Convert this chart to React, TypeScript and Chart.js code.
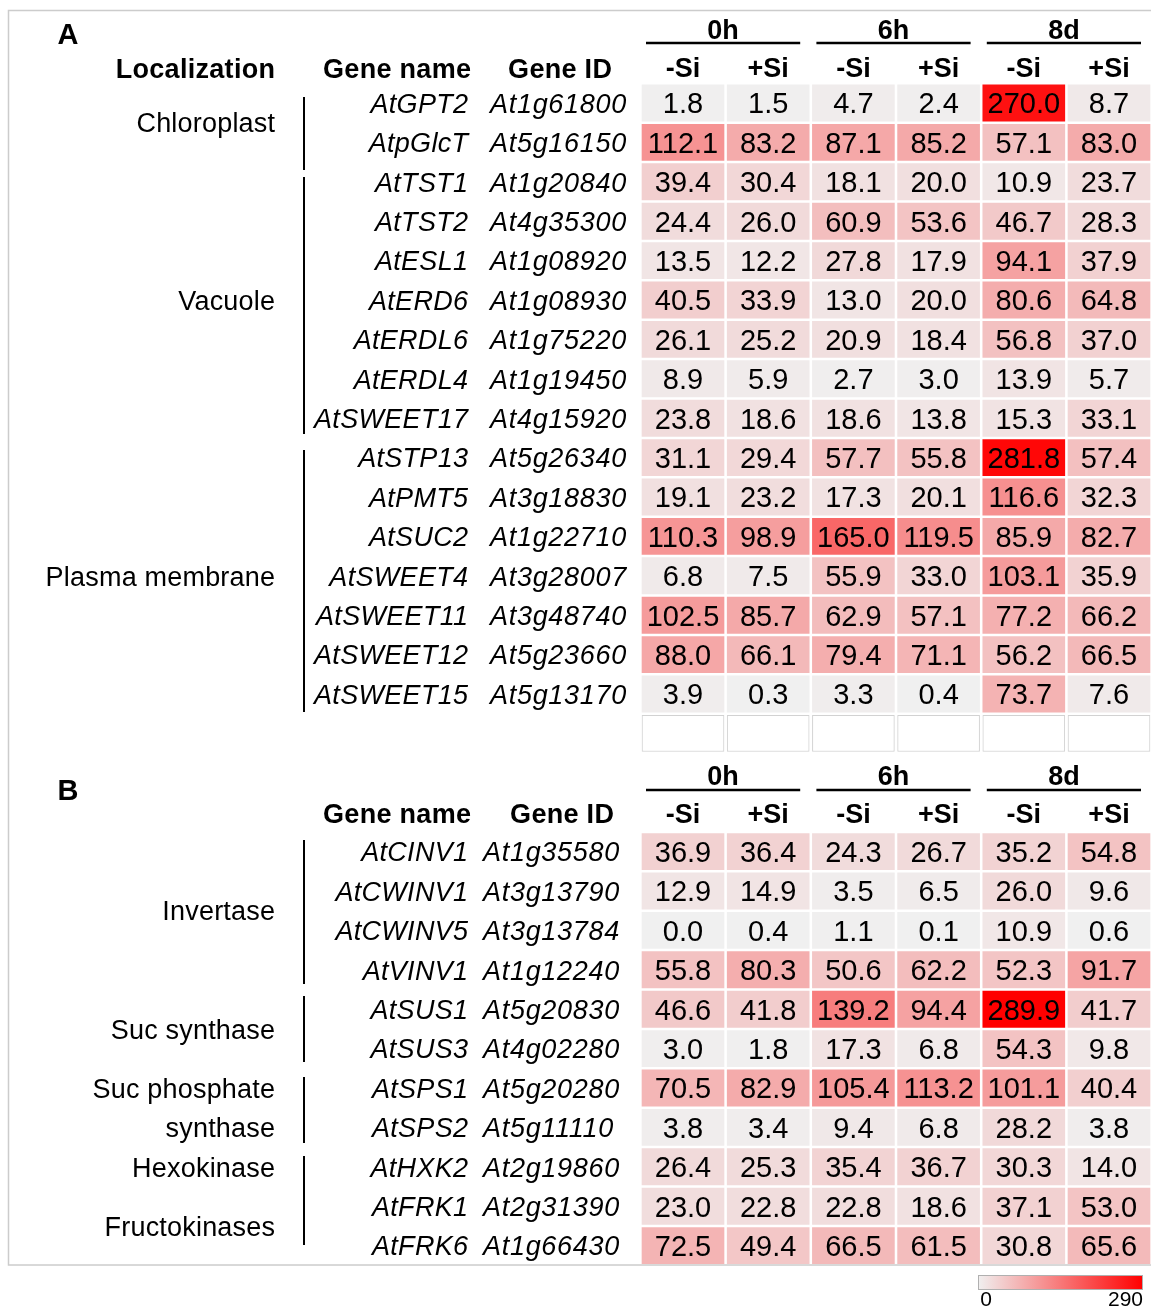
import { useEffect, useRef } from "react";
import { Chart, registerables } from "chart.js";

Chart.register(...registerables);

// ---------------- data ----------------
const timePoints = ["0h", "6h", "8d"];
const treatments = ["-Si", "+Si", "-Si", "+Si", "-Si", "+Si"];

const geneNamesA = [
  "AtGPT2", "AtpGlcT", "AtTST1", "AtTST2", "AtESL1", "AtERD6", "AtERDL6", "AtERDL4",
  "AtSWEET17", "AtSTP13", "AtPMT5", "AtSUC2", "AtSWEET4", "AtSWEET11", "AtSWEET12", "AtSWEET15",
];
const geneIdsA = [
  "At1g61800", "At5g16150", "At1g20840", "At4g35300", "At1g08920", "At1g08930", "At1g75220", "At1g19450",
  "At4g15920", "At5g26340", "At3g18830", "At1g22710", "At3g28007", "At3g48740", "At5g23660", "At5g13170",
];
const valuesA = [
  [1.8, 1.5, 4.7, 2.4, 270.0, 8.7],
  [112.1, 83.2, 87.1, 85.2, 57.1, 83.0],
  [39.4, 30.4, 18.1, 20.0, 10.9, 23.7],
  [24.4, 26.0, 60.9, 53.6, 46.7, 28.3],
  [13.5, 12.2, 27.8, 17.9, 94.1, 37.9],
  [40.5, 33.9, 13.0, 20.0, 80.6, 64.8],
  [26.1, 25.2, 20.9, 18.4, 56.8, 37.0],
  [8.9, 5.9, 2.7, 3.0, 13.9, 5.7],
  [23.8, 18.6, 18.6, 13.8, 15.3, 33.1],
  [31.1, 29.4, 57.7, 55.8, 281.8, 57.4],
  [19.1, 23.2, 17.3, 20.1, 116.6, 32.3],
  [110.3, 98.9, 165.0, 119.5, 85.9, 82.7],
  [6.8, 7.5, 55.9, 33.0, 103.1, 35.9],
  [102.5, 85.7, 62.9, 57.1, 77.2, 66.2],
  [88.0, 66.1, 79.4, 71.1, 56.2, 66.5],
  [3.9, 0.3, 3.3, 0.4, 73.7, 7.6],
];
const localizationLabels = ["Chloroplast", "Vacuole", "Plasma membrane"];
const localizationSpans = [[0, 1], [2, 8], [9, 15]];

const geneNamesB = [
  "AtCINV1", "AtCWINV1", "AtCWINV5", "AtVINV1", "AtSUS1", "AtSUS3",
  "AtSPS1", "AtSPS2", "AtHXK2", "AtFRK1", "AtFRK6",
];
const geneIdsB = [
  "At1g35580", "At3g13790", "At3g13784", "At1g12240", "At5g20830", "At4g02280",
  "At5g20280", "At5g11110", "At2g19860", "At2g31390", "At1g66430",
];
const valuesB = [
  [36.9, 36.4, 24.3, 26.7, 35.2, 54.8],
  [12.9, 14.9, 3.5, 6.5, 26.0, 9.6],
  [0.0, 0.4, 1.1, 0.1, 10.9, 0.6],
  [55.8, 80.3, 50.6, 62.2, 52.3, 91.7],
  [46.6, 41.8, 139.2, 94.4, 289.9, 41.7],
  [3.0, 1.8, 17.3, 6.8, 54.3, 9.8],
  [70.5, 82.9, 105.4, 113.2, 101.1, 40.4],
  [3.8, 3.4, 9.4, 6.8, 28.2, 3.8],
  [26.4, 25.3, 35.4, 36.7, 30.3, 14.0],
  [23.0, 22.8, 22.8, 18.6, 37.1, 53.0],
  [72.5, 49.4, 66.5, 61.5, 30.8, 65.6],
];
const functionLabels = ["Invertase", "Suc synthase", "Suc phosphate", "synthase", "Hexokinase", "Fructokinases"];
const functionLabelRows = [1.5, 4.5, 6, 7, 8, 9.5];

const scaleMin = 0;
const scaleMax = 290;

// ---------------- layout ----------------
const W = 1151;
const H = 1306;
const COL0 = 683; // px centre of first column
const COLPITCH = 85.2;
const ROW0 = 103; // px centre of first row
const ROWPITCH = 39.4;
const B_OFFSET = 19; // rows between panel A and panel B start
const EMPTY_ROW = 16;
const FONT = '"Liberation Sans", Arial, Helvetica, sans-serif';

function colorFor(v: number) {
  const t = Math.max(0, Math.min(1, (v - scaleMin) / (scaleMax - scaleMin)));
  const r = Math.round(240 + (255 - 240) * t);
  const g = Math.round(240 * (1 - t));
  const b = Math.round(240 * (1 - t));
  return `rgb(${r},${g},${b})`;
}

type Cell = { x: number; y: [number, number]; v: number };

function buildCells(): Cell[] {
  const cells: Cell[] = [];
  valuesA.forEach((row, i) =>
    row.forEach((v, c) => cells.push({ x: c, y: [i - 0.46, i + 0.46], v }))
  );
  valuesB.forEach((row, j) =>
    row.forEach((v, c) => cells.push({ x: c, y: [B_OFFSET + j - 0.46, B_OFFSET + j + 0.46], v }))
  );
  return cells;
}

function txt(
  ctx: CanvasRenderingContext2D,
  s: string,
  x: number,
  y: number,
  size: number,
  align: CanvasTextAlign = "center",
  style = "",
  spacing = 0
) {
  ctx.font = `${style} ${size}px ${FONT}`.trim();
  (ctx as any).letterSpacing = `${spacing}px`;
  ctx.textAlign = align;
  ctx.textBaseline = "alphabetic";
  ctx.fillStyle = "#000";
  // compensate trailing letter spacing for right/center alignment
  let dx = 0;
  if (spacing && align === "right") dx = spacing;
  if (spacing && align === "center") dx = spacing / 2;
  ctx.fillText(s, x + dx, y + size * 0.36);
  (ctx as any).letterSpacing = "0px";
}

const overlayPlugin = {
  id: "overlay",
  afterDatasetsDraw(chart: any) {
    const ctx: CanvasRenderingContext2D = chart.ctx;
    const xs = chart.scales.x;
    const ys = chart.scales.y;
    ctx.save();

    // frame
    ctx.strokeStyle = "#cccccc";
    ctx.lineWidth = 1.5;
    ctx.strokeRect(8.5, 10.5, 1170, 1254.5);

    // cell values
    const cells = chart.data.datasets[0].data as Cell[];
    cells.forEach((cell) => {
      const cx = xs.getPixelForValue(cell.x);
      const cy = ys.getPixelForValue((cell.y[0] + cell.y[1]) / 2);
      txt(ctx, cell.v.toFixed(1), cx, cy, 29, "center");
    });

    const drawHeader = (yTime: number, yLine: number, ySub: number) => {
      for (let k = 0; k < 3; k++) {
        const x1 = xs.getPixelForValue(2 * k) - 37;
        const x2 = xs.getPixelForValue(2 * k + 1) + 32;
        ctx.strokeStyle = "#000";
        ctx.lineWidth = 2.5;
        ctx.beginPath();
        ctx.moveTo(x1, yLine);
        ctx.lineTo(x2, yLine);
        ctx.stroke();
        txt(ctx, timePoints[k], (x1 + x2) / 2, yTime, 27, "center", "bold");
      }
      treatments.forEach((t, c) => txt(ctx, t, xs.getPixelForValue(c), ySub, 27, "center", "bold"));
    };

    // panel A headers
    txt(ctx, "A", 68, 34, 29, "center", "bold");
    txt(ctx, "Localization", 275, 68, 27, "right", "bold", 0.3);
    txt(ctx, "Gene name", 397, 68, 27, "center", "bold", 0.3);
    txt(ctx, "Gene ID", 560, 68, 27, "center", "bold", 0.3);
    drawHeader(29, 43, 67);

    // panel A rows
    geneNamesA.forEach((g, i) => {
      const y = ys.getPixelForValue(i);
      txt(ctx, g, 468, y, 27, "right", "italic", 0.3);
      txt(ctx, geneIdsA[i], 490, y, 27, "left", "italic", 0.7);
    });
    localizationLabels.forEach((l, k) => {
      const [a, b] = localizationSpans[k];
      txt(ctx, l, 275, ys.getPixelForValue((a + b) / 2), 27, "right", "", 0.2);
    });
    const barsA = [[97, 170], [177, 434], [450, 712]];
    const barsB = [[840, 984], [996, 1062], [1077, 1143], [1156, 1245]];
    ctx.strokeStyle = "#000";
    ctx.lineWidth = 2;
    [...barsA, ...barsB].forEach(([y1, y2]) => {
      ctx.beginPath();
      ctx.moveTo(304, y1);
      ctx.lineTo(304, y2);
      ctx.stroke();
    });

    // panel B headers
    txt(ctx, "B", 68, 790, 29, "center", "bold");
    txt(ctx, "Gene name", 397, 813, 27, "center", "bold", 0.3);
    txt(ctx, "Gene ID", 562, 813, 27, "center", "bold", 0.3);
    drawHeader(775, 790, 813);

    geneNamesB.forEach((g, j) => {
      const y = ys.getPixelForValue(B_OFFSET + j);
      txt(ctx, g, 468, y, 27, "right", "italic", 0.3);
      txt(ctx, geneIdsB[j], 483, y, 27, "left", "italic", 0.7);
    });
    functionLabels.forEach((l, k) => {
      txt(ctx, l, 275, ys.getPixelForValue(B_OFFSET + functionLabelRows[k]), 27, "right", "", 0.2);
    });

    // colour bar
    const cbx1 = 978, cbx2 = 1143, cby1 = 1275, cby2 = 1290;
    const grad = ctx.createLinearGradient(cbx1, 0, cbx2, 0);
    grad.addColorStop(0, colorFor(scaleMin));
    grad.addColorStop(0.5, colorFor((scaleMin + scaleMax) / 2));
    grad.addColorStop(1, colorFor(scaleMax));
    ctx.fillStyle = grad;
    ctx.fillRect(cbx1, cby1, cbx2 - cbx1, cby2 - cby1);
    ctx.strokeStyle = "#b0b0b0";
    ctx.lineWidth = 1;
    ctx.strokeRect(cbx1 + 0.5, cby1 + 0.5, cbx2 - cbx1 - 1, cby2 - cby1 - 1);
    txt(ctx, String(scaleMin), 986, 1298, 21, "center");
    txt(ctx, String(scaleMax), 1143, 1298, 21, "right");

    ctx.restore();
  },
};

export default function App() {
  const ref = useRef<HTMLCanvasElement | null>(null);
  useEffect(() => {
    if (!ref.current) return;
    const cells = buildCells();
    const emptyCells = treatments.map((_, c) => ({ x: c, y: [EMPTY_ROW - 0.46, EMPTY_ROW + 0.46] }));
    const xMin = -COL0 / COLPITCH;
    const xMax = xMin + W / COLPITCH;
    const yMin = -ROW0 / ROWPITCH;
    const yMax = yMin + H / ROWPITCH;
    const chart = new Chart(ref.current, {
      type: "bar",
      data: {
        datasets: [
          {
            data: cells as any,
            backgroundColor: cells.map((c) => colorFor(c.v)),
            borderWidth: 0,
            barThickness: 82,
            grouped: false,
          } as any,
          {
            data: emptyCells as any,
            backgroundColor: "#ffffff",
            borderColor: "#d2d2d2",
            borderWidth: 1,
            borderSkipped: false,
            barThickness: 82,
            grouped: false,
          } as any,
        ],
      },
      options: {
        responsive: false,
        animation: false,
        devicePixelRatio: 1,
        events: [],
        layout: { padding: 0 },
        plugins: { legend: { display: false }, tooltip: { enabled: false }, title: { display: false } },
        scales: {
          x: { type: "linear", min: xMin, max: xMax, display: false, offset: false, grid: { display: false } },
          y: { type: "linear", min: yMin, max: yMax, reverse: true, display: false, grid: { display: false } },
        },
      },
      plugins: [overlayPlugin],
    });
    return () => chart.destroy();
  }, []);
  return (
    <div style={{ position: "absolute", left: 0, top: 0, width: W, height: H, background: "#fff" }}>
      <canvas ref={ref} width={W} height={H} style={{ display: "block", width: W, height: H }} />
    </div>
  );
}
